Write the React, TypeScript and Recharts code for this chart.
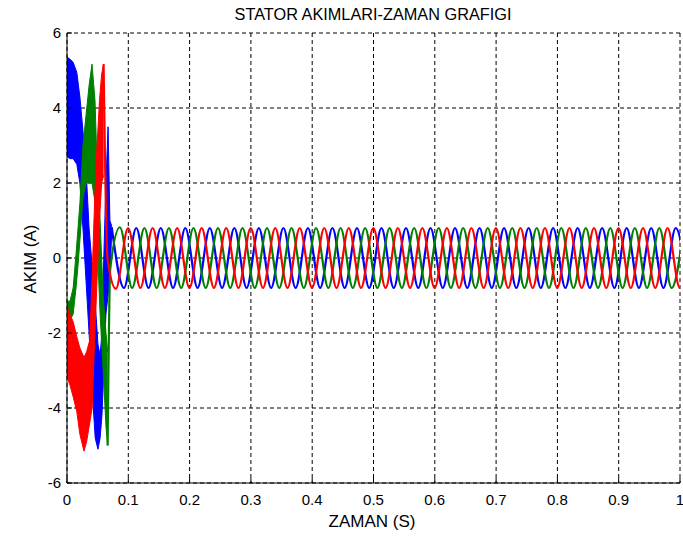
import React from 'react';
import { ComposedChart, Line, Area, XAxis, YAxis, CartesianGrid } from 'recharts';

// ---- axes ----
const xTicks = [0, 0.1, 0.2, 0.3, 0.4, 0.5, 0.6, 0.7, 0.8, 0.9, 1];
const yTicks = [-6, -4, -2, 0, 2, 4, 6];

// ---- start-up transient (filled bands: time, lower, upper) ----
const blueBandT = [0, 0.005, 0.01, 0.016, 0.021, 0.026, 0.031, 0.036, 0.041, 0.046, 0.0505, 0.054, 0.057, 0.06, 0.0635, 0.067, 0.07, 0.073];
const blueBandLo = [2.7, 2.65, 2.65, 2.5, 2.0, 0.8, -0.6, -2.0, -3.5, -4.8, -5.1, -4.8, -4.2, -3.0, -1.5, -1.0, -0.5, 0.7];
const blueBandHi = [5.36, 5.3, 5.22, 4.95, 4.3, 3.4, 2.4, 0.8, -0.2, -1.2, -2.3, -2.6, -2.0, 0.0, 2.0, 3.5, 1.0, 0.85];

const greenBandT = [0, 0.005, 0.01, 0.0147, 0.018, 0.0212, 0.026, 0.031, 0.036, 0.0408, 0.0457, 0.049, 0.054, 0.059, 0.0636, 0.0663];
const greenBandLo = [-1.55, -1.65, -1.5, -0.8, -0.2, 0.5, 1.6, 2.0, 2.0, 2.0, 1.5, 0.5, -1.5, -3.0, -4.5, -5.0];
const greenBandHi = [-1.15, -1.15, -0.8, 0.1, 0.8, 1.5, 3.0, 3.8, 4.6, 5.17, 4.2, 2.5, 1.0, -1.0, -2.0, -2.5];

const redBandT = [0, 0.005, 0.01, 0.016, 0.021, 0.0277, 0.032, 0.037, 0.041, 0.045, 0.049, 0.053, 0.0565, 0.0597];
const redBandLo = [-3.15, -3.4, -3.7, -4.1, -4.7, -5.15, -4.9, -4.4, -4.0, -2.2, -0.6, 1.0, 2.0, 2.2];
const redBandHi = [-1.28, -1.5, -1.7, -2.1, -2.4, -2.65, -2.5, -2.2, -0.5, 1.5, 3.0, 4.2, 4.9, 5.17];

// ---- steady state (extrema every half period of the 25 Hz current) ----
const halfPeriod = 0.02;

const blueLeadT: number[] = [];
const blueLeadV: number[] = [];
const blueSteadyStart = 0.073;
const blueSteady = [
  0.82, -0.8, 0.8, -0.8, 0.8, -0.8, 0.8, -0.8, 0.8, -0.8, 0.8, -0.8,
  0.8, -0.8, 0.8, -0.8, 0.8, -0.8, 0.8, -0.8, 0.8, -0.8, 0.8, -0.8,
  0.8, -0.8, 0.8, -0.8, 0.8, -0.8, 0.8, -0.8, 0.8, -0.8, 0.8, -0.8,
  0.8, -0.8, 0.8, -0.8, 0.8, -0.8, 0.8, -0.8, 0.8, -0.8, 0.8, -0.8,
];

const greenLeadT = [0.0663, 0.0705];
const greenLeadV = [-5.0, -0.3];
const greenSteadyStart = 0.0863;
const greenSteady = [
  0.82, -0.8, 0.8, -0.8, 0.8, -0.8, 0.8, -0.8, 0.8, -0.8, 0.8, -0.8,
  0.8, -0.8, 0.8, -0.8, 0.8, -0.8, 0.8, -0.8, 0.8, -0.8, 0.8, -0.8,
  0.8, -0.8, 0.8, -0.8, 0.8, -0.8, 0.8, -0.8, 0.8, -0.8, 0.8, -0.8,
  0.8, -0.8, 0.8, -0.8, 0.8, -0.8, 0.8, -0.8, 0.8, -0.8, 0.8,
];

const redLeadT = [0.0597, 0.066];
const redLeadV = [5.17, 0.0];
const redSteadyStart = 0.0797;
const redSteady = [
  -0.82, 0.8, -0.8, 0.8, -0.8, 0.8, -0.8, 0.8, -0.8, 0.8, -0.8, 0.8,
  -0.8, 0.8, -0.8, 0.8, -0.8, 0.8, -0.8, 0.8, -0.8, 0.8, -0.8, 0.8,
  -0.8, 0.8, -0.8, 0.8, -0.8, 0.8, -0.8, 0.8, -0.8, 0.8, -0.8, 0.8,
  -0.8, 0.8, -0.8, 0.8, -0.8, 0.8, -0.8, 0.8, -0.8, 0.8, -0.8, 0.8,
];

const buildBand = (t: number[], lo: number[], hi: number[]) =>
  t.map((tt, i) => ({ t: tt, lo: lo[i], hi: hi[i] }));

const buildLine = (leadT: number[], leadV: number[], start: number, vals: number[]) => [
  ...leadT.map((t, i) => ({ t, v: leadV[i] })),
  ...vals.map((v, k) => ({ t: start + k * halfPeriod, v })),
];

const blueBand = buildBand(blueBandT, blueBandLo, blueBandHi);
const greenBand = buildBand(greenBandT, greenBandLo, greenBandHi);
const redBand = buildBand(redBandT, redBandLo, redBandHi);

const blueLine = buildLine(blueLeadT, blueLeadV, blueSteadyStart, blueSteady);
const greenLine = buildLine(greenLeadT, greenLeadV, greenSteadyStart, greenSteady);
const redLine = buildLine(redLeadT, redLeadV, redSteadyStart, redSteady);

const BLUE = '#0000ff';
const GREEN = '#008000';
const RED = '#ff0000';
const FONT = "'Liberation Sans', Arial, sans-serif";

const rangeKey = (d: any) => [d.lo, d.hi];

export default function App() {
  return (
    <div style={{ position: 'absolute', left: 0, top: 0, width: 683, height: 539, background: '#fff' }}>
      <ComposedChart
        width={683}
        height={539}
        margin={{ top: 33, right: 3, bottom: 26, left: 0 }}
        style={{ fontFamily: FONT }}
      >
        <CartesianGrid stroke="#000" strokeDasharray="4 3" strokeWidth={1} />
        <XAxis
          xAxisId={0}
          type="number"
          dataKey="t"
          domain={[0, 1]}
          ticks={xTicks}
          interval={0}
          allowDataOverflow
          height={30}
          tickSize={-5}
          tickMargin={16}
          stroke="#000"
          tick={{ fill: '#000', fontSize: 15, fontFamily: FONT }}
          tickFormatter={(v: number) => String(v)}
        />
        <XAxis
          xAxisId="top"
          orientation="top"
          type="number"
          dataKey="t"
          domain={[0, 1]}
          ticks={xTicks}
          interval={0}
          allowDataOverflow
          height={0}
          tickSize={-5}
          stroke="#000"
          tick={false}
        />
        <YAxis
          yAxisId={0}
          type="number"
          domain={[-6, 6]}
          ticks={yTicks}
          interval={0}
          allowDataOverflow
          width={67}
          tickSize={-5}
          tickMargin={11}
          stroke="#000"
          tick={{ fill: '#000', fontSize: 15, fontFamily: FONT }}
        />
        <YAxis
          yAxisId="right"
          orientation="right"
          type="number"
          domain={[-6, 6]}
          ticks={yTicks}
          interval={0}
          allowDataOverflow
          width={0}
          tickSize={-5}
          stroke="#000"
          tick={false}
        />
        <Area data={blueBand} dataKey={rangeKey} type="linear" stroke={BLUE} fill={BLUE} fillOpacity={1} strokeWidth={1} isAnimationActive={false} dot={false} activeDot={false} />
        <Area data={greenBand} dataKey={rangeKey} type="linear" stroke={GREEN} fill={GREEN} fillOpacity={1} strokeWidth={1} isAnimationActive={false} dot={false} activeDot={false} />
        <Area data={redBand} dataKey={rangeKey} type="linear" stroke={RED} fill={RED} fillOpacity={1} strokeWidth={1} isAnimationActive={false} dot={false} activeDot={false} />
        <Line data={blueLine} dataKey="v" type="monotone" stroke={BLUE} strokeWidth={2.2} dot={false} activeDot={false} isAnimationActive={false} />
        <Line data={greenLine} dataKey="v" type="monotone" stroke={GREEN} strokeWidth={2.2} dot={false} activeDot={false} isAnimationActive={false} />
        <Line data={redLine} dataKey="v" type="monotone" stroke={RED} strokeWidth={2.2} dot={false} activeDot={false} isAnimationActive={false} />
      </ComposedChart>
      <svg
        width={683}
        height={539}
        style={{ position: 'absolute', left: 0, top: 0, pointerEvents: 'none' }}
      >
        <text x={373} y={20} textAnchor="middle" fontSize={16.3} fontFamily={FONT} fill="#000">
          STATOR AKIMLARI-ZAMAN GRAFIGI
        </text>
        <text x={372} y={527} textAnchor="middle" fontSize={17} fontFamily={FONT} fill="#000">
          ZAMAN (S)
        </text>
        <text
          transform="translate(36,259) rotate(-90)"
          textAnchor="middle"
          fontSize={17}
          fontFamily={FONT}
          fill="#000"
        >
          AKIM (A)
        </text>
      </svg>
    </div>
  );
}
